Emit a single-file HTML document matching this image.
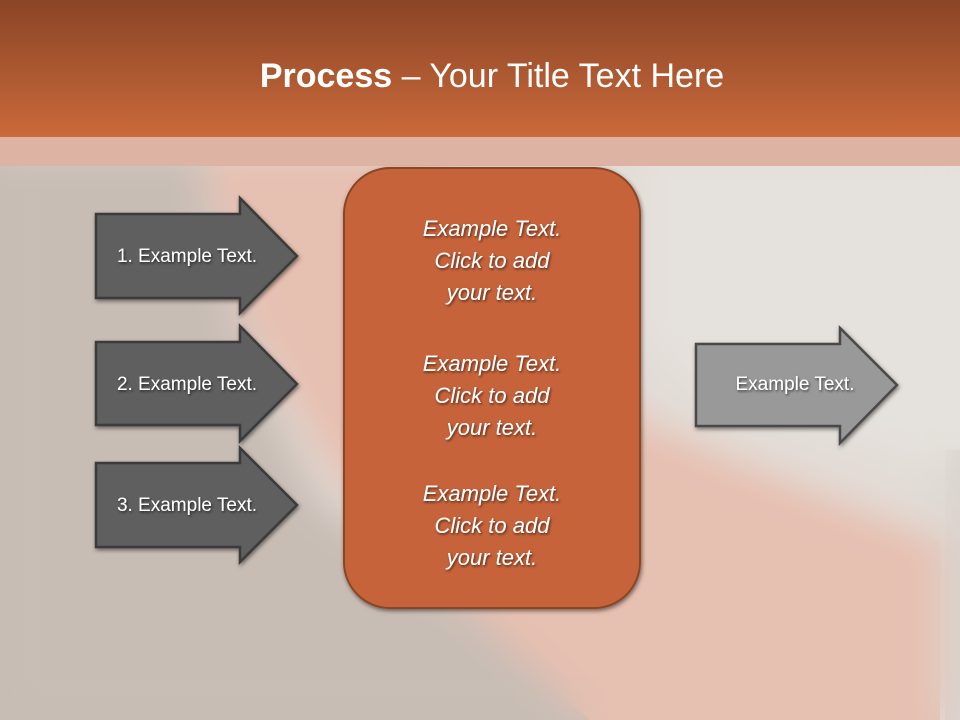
<!DOCTYPE html>
<html><head><meta charset="utf-8"><style>
html,body{margin:0;padding:0;width:960px;height:720px;overflow:hidden}
#wrap{position:relative;width:960px;height:720px;overflow:hidden}
svg{position:absolute;left:0;top:0;display:block;overflow:hidden}
text{font-family:"Liberation Sans",sans-serif}
</style></head><body><div id="wrap">
<svg width="960" height="720" viewBox="0 0 960 720" overflow="hidden" xmlns="http://www.w3.org/2000/svg">
<defs>
<linearGradient id="hdr" x1="0" y1="0" x2="0" y2="1">
<stop offset="0" stop-color="#8A4527"/><stop offset="1" stop-color="#CA693A"/>
</linearGradient>
<filter id="blur" filterUnits="userSpaceOnUse" x="0" y="0" width="960" height="720"><feGaussianBlur stdDeviation="18"/></filter>
<filter id="sh" x="-20%" y="-20%" width="140%" height="140%"><feDropShadow dx="1" dy="2" stdDeviation="2" flood-color="#000" flood-opacity="0.5"/></filter>
<filter id="tsh"><feDropShadow dx="1" dy="1.5" stdDeviation="1.2" flood-color="#000" flood-opacity="0.6"/></filter>
<g id="bgshapes">
<rect width="960" height="720" fill="#E2DCD6"/>
<polygon points="200,150 420,150 480,230 560,330 640,420 760,470 940,540 940,720 590,720 470,610 330,470 250,330" fill="#E6C0B1"/>
<polygon points="640,150 960,150 960,480 840,440 700,400 640,330" fill="#E5E1DC"/>
<polygon points="0,150 200,150 220,260 260,380 320,500 470,610 590,720 0,720" fill="#C8BDB5"/>
<rect x="945" y="450" width="15" height="270" fill="#D9D3CD"/>
</g>
</defs>
<use href="#bgshapes"/>
<g filter="url(#blur)"><use href="#bgshapes"/></g>
<rect x="0" y="137" width="960" height="29" fill="#DDB3A4"/>
<rect x="0" y="0" width="960" height="137" fill="url(#hdr)"/>
<text x="492" y="87" text-anchor="middle" font-size="34" fill="#fff"><tspan font-weight="bold">Process</tspan> – Your Title Text Here</text>

<g filter="url(#sh)" stroke="#3A3A3A" stroke-width="2.5" stroke-linejoin="miter">
<polygon points="96,214 240,214 240,198 297,256 240,313 240,298 96,298" fill="#5E5E5E"/>
<polygon points="96,342 240,342 240,326 297,384 240,441 240,425 96,425" fill="#5E5E5E"/>
<polygon points="96,463 240,463 240,448 297,505 240,562 240,547 96,547" fill="#5E5E5E"/>
<polygon points="696,344 840,344 840,328 897,385 840,443 840,426 696,426" fill="#999999" stroke="#4A4A4A"/>
</g>
<g filter="url(#tsh)" fill="#fff" font-size="19">
<text x="187" y="262" text-anchor="middle">1. Example Text.</text>
<text x="187" y="390" text-anchor="middle">2. Example Text.</text>
<text x="187" y="511" text-anchor="middle">3. Example Text.</text>
<text x="795" y="390" text-anchor="middle">Example Text.</text>
</g>

<rect x="344" y="168" width="296" height="440" rx="46" ry="46" fill="#C6643A" stroke="#8B4524" stroke-width="2" filter="url(#sh)"/>
<g filter="url(#tsh)" fill="#fff" font-size="22" font-style="italic" text-anchor="middle">
<text x="492" y="236">Example Text.</text>
<text x="492" y="268">Click  to add</text>
<text x="492" y="300">your text.</text>
<text x="492" y="371">Example Text.</text>
<text x="492" y="403">Click  to add</text>
<text x="492" y="435">your text.</text>
<text x="492" y="501">Example Text.</text>
<text x="492" y="533">Click  to add</text>
<text x="492" y="565">your text.</text>
</g>
</svg>
</div></body></html>
